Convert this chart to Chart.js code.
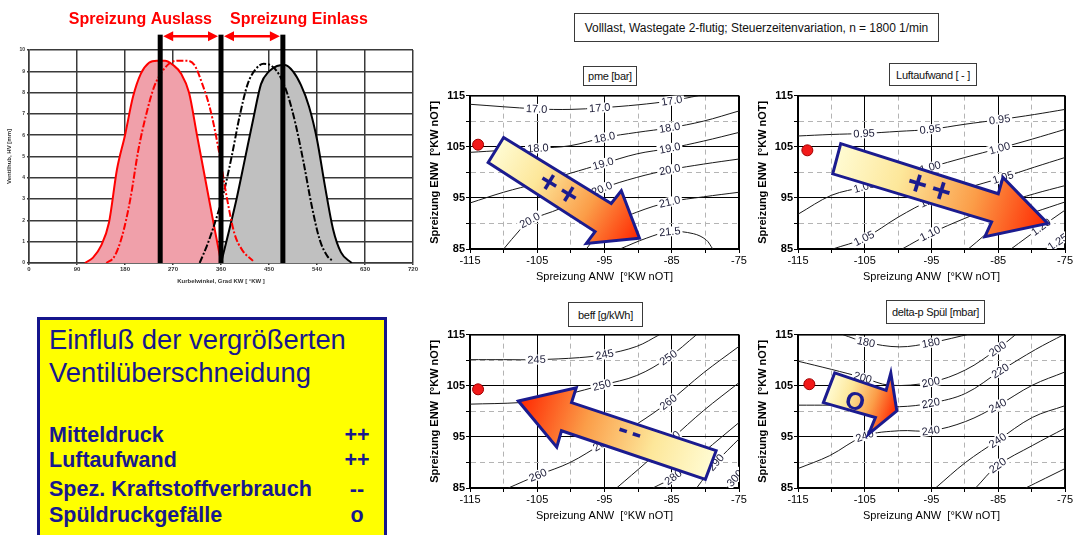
<!DOCTYPE html>
<html>
<head>
<meta charset="utf-8">
<script src="https://cdn.jsdelivr.net/npm/chart.js@4.4.1/dist/chart.umd.min.js"></script>
<style>
  body { margin:0; width:1074px; height:535px; overflow:hidden; background:#fff; position:relative; font-family:"Liberation Sans", Arial, sans-serif; }
  canvas { position:absolute; }
  .tbox { position:absolute; box-sizing:border-box; border:1.5px solid #3a3a3a; background:#fff; color:#111; font-size:11px; letter-spacing:-0.3px; white-space:nowrap; display:flex; align-items:center; justify-content:center; }
  #info { position:absolute; left:37px; top:317px; width:350px; height:240px; box-sizing:border-box; border:3px solid #16168c; background:#ffff00; }
  .info { position:absolute; color:#18188e; white-space:nowrap; line-height:1; }
  .head { font-size:27.4px; left:49px; }
  .row { font-size:21.5px; font-weight:bold; left:49px; }
  .mark { font-size:21.5px; font-weight:bold; width:40px; left:337px; text-align:center; }
</style>
</head>
<body>
<canvas id="valve" width="430" height="290" style="left:0;top:0"></canvas>
<div class="tbox" style="left:574px;top:13px;width:365px;height:29px;font-size:12px;letter-spacing:-0.05px">Volllast, Wastegate 2-flutig; Steuerzeitenvariation, n = 1800 1/min</div>
<canvas id="c1" width="330" height="200" style="left:425px;top:88px"></canvas>
<canvas id="c2" width="321" height="200" style="left:753px;top:88px"></canvas>
<canvas id="c3" width="330" height="200" style="left:425px;top:327px"></canvas>
<canvas id="c4" width="321" height="200" style="left:753px;top:327px"></canvas>
<div class="tbox" style="left:583px;top:66px;width:54px;height:20px">pme [bar]</div>
<div class="tbox" style="left:889px;top:63px;width:88px;height:23px">Luftaufwand [ - ]</div>
<div class="tbox" style="left:568px;top:302px;width:75px;height:25px">beff [g/kWh]</div>
<div class="tbox" style="left:886px;top:300px;width:99px;height:24px">delta-p Spül [mbar]</div>
<div id="info"></div>
<div id="infoText"></div>
<script>
const FONT = '"Liberation Sans", Arial, sans-serif';

// Ventilhub: Kurbelwinkel [°KW] / Hub [mm]
const ausAngle  = [105,120,135,150,165,180,195,210,225,240,255,270,285,300,315,330,345,360];
const ausLift   = [0,0.25,0.8,1.9,4.4,6.0,7.8,8.9,9.4,9.5,9.5,9.3,8.9,8.0,6.0,4.0,2.0,0.05];
const ausAngle2 = [145,160,175,190,205,220,235,250,265,280,295,310,325,340,355,370,385,400,420];
const ausLift2  = [0,0.3,1.3,3.0,5.3,7.0,8.3,9.0,9.4,9.5,9.5,9.3,8.4,7.2,5.4,3.2,1.4,0.6,0.1];
const einAngle  = [360,375,390,405,420,435,450,465,480,495,510,525,540,555,570,585,605];
const einLift   = [0,1.5,3.1,4.9,6.7,8.4,9.0,9.25,9.3,9.0,8.35,7.35,5.8,3.6,1.6,0.5,0];
const einAngle2 = [320,335,350,365,380,395,410,425,440,455,470,485,500,515,530,545,560,570];
const einLift2  = [0,0.9,2.0,3.3,5.0,6.9,8.4,9.1,9.35,9.25,8.8,7.9,6.5,4.7,2.7,1.1,0.3,0.1];
const spreadAngles = [246, 360, 476];

// Kennfelder: Spreizung ANW (x) / Spreizung ENW (y)
const pme170 = [[-115,113.3],[-105.1,112.4],[-100,112.3],[-95.7,112.6],[-90,113.2],[-85,114.0],[-81,115]];
const pme180 = [[-115,103.9],[-110,104.3],[-104.9,104.7],[-100.1,105.2],[-95.0,106.8],[-90.2,107.8],[-85.3,108.7],[-80.3,110.0],[-75,112.0]];
const pme190 = [[-115,94.0],[-110,96.1],[-104.9,97.9],[-100.1,99.8],[-95.2,101.7],[-90.2,103.6],[-85.3,104.7],[-80.3,106.1],[-75,107.8]];
const pme200 = [[-110,85],[-107.6,88.7],[-106.1,90.6],[-101.6,92.9],[-95.4,96.8],[-90.2,99.0],[-85.3,100.5],[-80.3,101.6],[-75,102.6]];
const pme210 = [[-97.7,85],[-95.0,89.3],[-90.2,92.2],[-85.3,94.2],[-80.3,95.2],[-75,96.1]];
const pme215 = [[-92.7,85],[-88.8,87.1],[-85.3,88.4],[-81.8,88.0],[-79.9,86.8],[-78.9,85]];
const pmeLevels = ['17.0','18.0','19.0','20.0','21.0','21.5'];
const pmeLabelAt = [[1,3,5],[2,4,6],[2,4,6],[2,4,6],[1,3],[2]];
const pmeDot = [-113.8,105.4];

const luft095 = [[-115,107.1],[-110,107.4],[-105.1,107.6],[-100,108.0],[-95.2,108.4],[-90,109.4],[-84.8,110.3],[-79.6,111.3],[-75,112.3]];
const luft100 = [[-115,91.8],[-110,95.5],[-105.1,97.2],[-99.9,99.4],[-95.2,101.0],[-90,102.9],[-84.8,104.7],[-79.9,106.5],[-75,108.4]];
const luft105 = [[-109.8,85],[-105.1,87.1],[-99.9,91.3],[-95.2,94.5],[-90,96.8],[-84.3,99.0],[-79.6,101.0],[-75,102.9]];
const luft110 = [[-99.4,85],[-95.2,88.0],[-90,91.0],[-84.3,93.9],[-79.6,95.8],[-75,97.4]];
const luft115 = [[-89.5,85],[-84.6,90.0],[-79.6,92.2],[-75,94.2]];
const luft120 = [[-83.1,85],[-78.6,89.3],[-75,92.6]];
const luft125 = [[-78.1,85],[-76.1,86.4],[-75,87.7]];
const luftLevels = ['0.95','1.00','1.05','1.10','1.15','1.20','1.25'];
const luftLabelAt = [[2,4,6],[2,4,6],[1,3,5],[1,3],[1],[1],[1]];
const luftDot = [-113.6,104.3];

const beff245 = [[-115,110.1],[-110,110.1],[-105.1,110.1],[-98.7,110.5],[-95.0,111.1],[-90.2,112.7],[-86.8,115]];
const beff250 = [[-115,101.4],[-107.6,101.7],[-104,102.3],[-100.6,103.3],[-95.4,105.1],[-90.2,107.0],[-85.5,110.5],[-81.3,115]];
const beff260 = [[-109.3,85],[-104.9,87.5],[-100.1,90.0],[-95.4,93.6],[-90.2,97.5],[-85.5,101.8],[-80.3,107.5],[-75,112.7]];
const beff270 = [[-93.2,85],[-88.8,90.0],[-85.0,94.6],[-80.3,100.1],[-75,105.6]];
const beff280 = [[-87.8,85],[-84.8,87.1],[-80.3,92.0],[-75,97.8]];
const beff290 = [[-81.3,85],[-78.4,90.0],[-75,94.6]];
const beff300 = [[-76.9,85],[-75.6,86.9],[-75,87.8]];
const beffLevels = ['245','250','260','270','280','290','300'];
const beffLabelAt = [[2,4],[2,4,6],[1,3,5],[2],[1],[1],[1]];
const beffDot = [-113.8,104.3];

const dp180  = [[-108.3,115],[-104.8,113.5],[-99.8,112.6],[-95.1,113.4],[-89,115.2]];
const dp200  = [[-115,109.8],[-110,108.2],[-105.3,106.6],[-101.3,105.1],[-95.1,105.7],[-89.9,108.1],[-85.1,112.2],[-82.4,115]];
const dp220  = [[-115,101.2],[-110,101.2],[-105.0,101.2],[-99.8,100.9],[-95.1,101.6],[-89.9,103.5],[-84.7,107.9],[-79.4,112.1],[-75.2,115]];
const dp240  = [[-115,88.8],[-110.3,91.3],[-105.0,95.2],[-99.8,96.2],[-95.1,96.2],[-89.9,98.0],[-85.1,101.1],[-79.9,105.1],[-75,107.7]];
const dp240b = [[-94.4,85],[-89.9,90.0],[-85.1,94.3],[-79.9,98.8],[-75,101.1]];
const dp220b = [[-88.4,85],[-85.1,89.4],[-79.9,93.3],[-75,96.7]];
const dp200b = [[-80.9,85],[-75,88.8]];
const dpLevels = ['180','200','220','240','240','220','200'];
const dpLabelAt = [[1,3],[2,4,6],[2,4,6],[2,4,6],[2],[1],[]];
const dpDot = [-113.3,105.3];

const infoRows  = ['Mitteldruck','Luftaufwand','Spez. Kraftstoffverbrauch','Spüldruckgefälle'];
const infoMarks = ['++','++','--','o'];

// Tendenzpfeile (Kennfeld-Koordinaten)
const pmeArrow  = {shape:[[-110.0,106.8],[-94.0,93.9],[-92.5,96.4],[-89.8,87.1],[-97.7,86.1],[-96.4,88.4],[-112.3,101.9]], tail:[-111.15,104.35], tip:[-89.8,87.1], mark:'+', count:2, at:[-101.9,96.6], size:32, gap:23};
const luftArrow = {shape:[[-108.6,105.6],[-85.0,95.8],[-84.3,99.0],[-77.6,90.0],[-87.0,87.4],[-86.0,90.3],[-109.8,99.7]], tail:[-109.2,102.65], tip:[-77.6,90.0], mark:'+', count:2, at:[-95.4,96.8], size:34, gap:25};
const beffArrow = {shape:[[-107.8,102.0],[-99.2,104.6],[-99.9,101.7],[-78.4,92.3],[-80.0,86.7],[-101.4,96.2],[-102.1,93.0]], tail:[-79.2,89.5], tip:[-107.8,102.0], mark:'-', count:2, at:[-91.2,95.9], size:30, gap:14};
const dpArrow   = {shape:[[-109.5,107.5],[-101.8,104.1],[-101.1,107.5],[-100.2,100.1],[-104.4,95.6],[-103.4,98.8],[-111.2,101.7]], tail:[-110.35,104.6], tip:[-100.2,100.1], mark:'O', count:1, at:[-106.5,101.7], size:25, gap:0};

function pairs(xs, ys) { return xs.map((v, i) => ({x: v, y: ys[i]})); }

// ---------- Ventilhubkurven ----------
function dblArrow(ctx, x1, x2, y) {
  ctx.beginPath(); ctx.moveTo(x1 + 8, y); ctx.lineTo(x2 - 8, y); ctx.stroke();
  ctx.beginPath(); ctx.moveTo(x1, y); ctx.lineTo(x1 + 10, y - 5); ctx.lineTo(x1 + 10, y + 5); ctx.closePath(); ctx.fill();
  ctx.beginPath(); ctx.moveTo(x2, y); ctx.lineTo(x2 - 10, y - 5); ctx.lineTo(x2 - 10, y + 5); ctx.closePath(); ctx.fill();
}

const spreadMarks = {
  id: 'spreadMarks',
  afterDatasetsDraw(chart) {
    const {ctx, scales: {x, y}} = chart;
    const xs = spreadAngles.map(a => x.getPixelForValue(a));
    const top = y.getPixelForValue(10.72), bot = y.getPixelForValue(0), ay = y.getPixelForValue(10.64);
    ctx.save();
    ctx.fillStyle = '#000';
    xs.forEach(px => ctx.fillRect(px - 2.5, top, 5, bot - top));
    ctx.strokeStyle = '#ff0000'; ctx.fillStyle = '#ff0000'; ctx.lineWidth = 2.5;
    for (let i = 0; i < xs.length - 1; i++) dblArrow(ctx, xs[i] + 3, xs[i + 1] - 3, ay);
    ctx.font = 'bold 16px ' + FONT;
    ctx.textAlign = 'right'; ctx.fillText('Spreizung Auslass', xs[1] - 9, 24);
    ctx.textAlign = 'left'; ctx.fillText('Spreizung Einlass', xs[1] + 9, 24);
    ctx.restore();
  }
};

new Chart(document.getElementById('valve'), {
  type: 'scatter',
  data: {
    datasets: [
      {data: pairs(ausAngle2, ausLift2), showLine: true, borderColor: '#ff0000', borderWidth: 2, borderDash: [7, 2, 2, 2], pointRadius: 0, cubicInterpolationMode: 'monotone'},
      {data: pairs(einAngle2, einLift2), showLine: true, borderColor: '#000', borderWidth: 2, borderDash: [7, 2, 2, 2], pointRadius: 0, cubicInterpolationMode: 'monotone'},
      {data: pairs(ausAngle, ausLift), showLine: true, borderColor: '#ff0000', borderWidth: 2, backgroundColor: '#f0a0aa', fill: 'origin', pointRadius: 0, cubicInterpolationMode: 'monotone'},
      {data: pairs(einAngle, einLift), showLine: true, borderColor: '#000', borderWidth: 2, backgroundColor: '#c0c0c0', fill: 'origin', pointRadius: 0, cubicInterpolationMode: 'monotone'}
    ]
  },
  options: {
    responsive: false, animation: false, events: [],
    layout: {padding: {top: 50, right: 17, left: 0, bottom: 0}},
    plugins: {legend: {display: false}, tooltip: {enabled: false}},
    scales: {
      x: {
        type: 'linear', min: 0, max: 720,
        afterFit: s => { s.height = 27; },
        ticks: {stepSize: 90, padding: 1, maxRotation: 0, color: '#333', font: {size: 6, weight: 'bold', family: FONT}},
        grid: {color: '#3a3a3a', lineWidth: 1.5, tickLength: 2},
        border: {color: '#3a3a3a', width: 1.5},
        title: {display: true, text: 'Kurbelwinkel, Grad KW [ °KW ]', color: '#333', font: {size: 6, weight: 'bold', family: FONT}, padding: {top: 0, bottom: 5}}
      },
      y: {
        min: 0, max: 10,
        afterFit: s => { s.width = 29; },
        ticks: {stepSize: 1, padding: 2, color: '#333', font: {size: 5, weight: 'bold', family: FONT}},
        grid: {color: '#3a3a3a', lineWidth: 1.5, tickLength: 2},
        border: {color: '#3a3a3a', width: 1.5},
        title: {display: true, text: 'Ventilhub, HV [mm]', color: '#333', font: {size: 6, weight: 'bold', family: FONT}, padding: {top: 6, bottom: 0}}
      }
    }
  },
  plugins: [spreadMarks]
});

// ---------- Kennfelder ----------
function drawArrow(chart, arr) {
  const {ctx, scales: {x, y}} = chart;
  const px = p => [x.getPixelForValue(p[0]), y.getPixelForValue(p[1])];
  const pts = arr.shape.map(px);
  const t = px(arr.tail), h = px(arr.tip);
  const g = ctx.createLinearGradient(t[0], t[1], h[0], h[1]);
  g.addColorStop(0, '#fffbd2');
  g.addColorStop(0.3, '#fde79a');
  g.addColorStop(0.65, '#fb9d48');
  g.addColorStop(1, '#ff2600');
  ctx.save();
  ctx.beginPath();
  pts.forEach((p, i) => i ? ctx.lineTo(p[0], p[1]) : ctx.moveTo(p[0], p[1]));
  ctx.closePath();
  ctx.fillStyle = g; ctx.fill();
  ctx.lineWidth = 3; ctx.lineJoin = 'miter'; ctx.strokeStyle = '#1b1b8f'; ctx.stroke();
  let ang = Math.atan2(h[1] - t[1], h[0] - t[0]);
  if (ang > Math.PI / 2) ang -= Math.PI;
  if (ang < -Math.PI / 2) ang += Math.PI;
  const c = px(arr.at);
  ctx.translate(c[0], c[1]); ctx.rotate(ang);
  ctx.font = 'bold ' + arr.size + 'px ' + FONT;
  ctx.fillStyle = '#1b1b8f'; ctx.textAlign = 'center'; ctx.textBaseline = 'middle';
  for (let i = 0; i < arr.count; i++) ctx.fillText(arr.mark, (i - (arr.count - 1) / 2) * arr.gap, 0);
  ctx.restore();
}

function makeOverlay(lines, levels, labelAt, arrow) {
  return {
    id: 'overlay',
    beforeDatasetsDraw(chart) {
      const {ctx, chartArea: a} = chart;
      ctx.save();
      ctx.strokeStyle = '#000'; ctx.lineWidth = 1;
      ctx.strokeRect(a.left + 0.5, a.top + 0.5, a.right - a.left - 1, a.bottom - a.top);
      ctx.restore();
    },
    afterDatasetsDraw(chart) {
      const {ctx, chartArea: a, scales: {x, y}} = chart;
      ctx.save();
      ctx.beginPath(); ctx.rect(a.left, a.top, a.right - a.left, a.bottom - a.top); ctx.clip();
      ctx.font = '11px ' + FONT; ctx.textAlign = 'center'; ctx.textBaseline = 'middle';
      lines.forEach((pts, k) => {
        labelAt[k].forEach(i => {
          const P = j => [x.getPixelForValue(pts[j][0]), y.getPixelForValue(pts[j][1])];
          const c = P(i), p0 = P(Math.max(i - 1, 0)), p1 = P(Math.min(i + 1, pts.length - 1));
          const ang = Math.atan2(p1[1] - p0[1], p1[0] - p0[0]);
          const txt = levels[k], w = ctx.measureText(txt).width;
          ctx.save(); ctx.translate(c[0], c[1]); ctx.rotate(ang);
          ctx.fillStyle = '#fff'; ctx.fillRect(-w / 2 - 2, -5, w + 4, 10);
          ctx.fillStyle = '#1c1c38'; ctx.fillText(txt, 0, 0.5);
          ctx.restore();
        });
      });
      ctx.restore();
      drawArrow(chart, arrow);
    }
  };
}

const major = v => Math.abs((Math.round(v) + 115) % 10) === 0;

function contourChart(id, lines, levels, labelAt, dot, arrow, padRight) {
  const ds = [{data: [{x: dot[0], y: dot[1]}], pointRadius: 5.5, pointBackgroundColor: '#f21a1a', pointBorderColor: '#a00000', pointBorderWidth: 1}];
  lines.forEach(pts => ds.push({
    data: pts.map(p => ({x: p[0], y: p[1]})), showLine: true, borderColor: '#1a1a1a', borderWidth: 1, pointRadius: 0, tension: 0.35
  }));
  const axis = (title, bold, fit, pad) => ({
    type: 'linear',
    afterFit: fit,
    ticks: {stepSize: 5, padding: 1, maxRotation: 0, autoSkip: false, color: '#000', font: {size: 11, weight: bold ? 'bold' : 'normal', family: FONT}, callback: v => major(v) ? v : ''},
    grid: {color: c => (c.tick && !major(c.tick.value)) ? '#b4b4b4' : '#000', lineWidth: 1, tickLength: 4, tickColor: '#000'},
    border: {color: '#000', width: 2, dash: c => (c.tick && !major(c.tick.value)) ? [5, 4] : []},
    title: {display: true, text: title, color: '#000', font: {size: 11, weight: 'bold', family: FONT}, padding: pad}
  });
  const xs = axis('Spreizung ANW  [°KW nOT]', false, s => { s.height = 39; }, {top: 0, bottom: 4});
  xs.min = -115; xs.max = -75; xs.title.font.weight = 'normal';
  const ys = axis('Spreizung ENW  [°KW nOT]', true, s => { s.width = 45; }, {top: 3, bottom: 0});
  ys.min = 85; ys.max = 115;
  return new Chart(document.getElementById(id), {
    type: 'scatter',
    data: {datasets: ds},
    options: {
      responsive: false, animation: false, events: [],
      layout: {padding: {top: 6, right: padRight, left: 0, bottom: 0}},
      plugins: {legend: {display: false}, tooltip: {enabled: false}},
      scales: {x: xs, y: ys}
    },
    plugins: [makeOverlay(lines, levels, labelAt, arrow)]
  });
}

contourChart('c1', [pme170, pme180, pme190, pme200, pme210, pme215], pmeLevels, pmeLabelAt, pmeDot, pmeArrow, 16);
contourChart('c2', [luft095, luft100, luft105, luft110, luft115, luft120, luft125], luftLevels, luftLabelAt, luftDot, luftArrow, 6);
contourChart('c3', [beff245, beff250, beff260, beff270, beff280, beff290, beff300], beffLevels, beffLabelAt, beffDot, beffArrow, 16);
contourChart('c4', [dp180, dp200, dp220, dp240, dp240b, dp220b, dp200b], dpLevels, dpLabelAt, dpDot, dpArrow, 6);

// ---------- Textbox ----------
const info = document.getElementById('infoText');
[['Einfluß der vergrößerten', 326], ['Ventilüberschneidung', 359]].forEach(([t, top]) => {
  const d = document.createElement('div'); d.className = 'info head'; d.style.top = top + 'px'; d.textContent = t; info.appendChild(d);
});
const rowTops = [425, 450, 479, 505];
infoRows.forEach((t, i) => {
  const d = document.createElement('div'); d.className = 'info row'; d.style.top = rowTops[i] + 'px'; d.textContent = t; info.appendChild(d);
  const m = document.createElement('div'); m.className = 'info mark'; m.style.top = rowTops[i] + 'px'; m.textContent = infoMarks[i]; info.appendChild(m);
});
</script>
</body>
</html>
